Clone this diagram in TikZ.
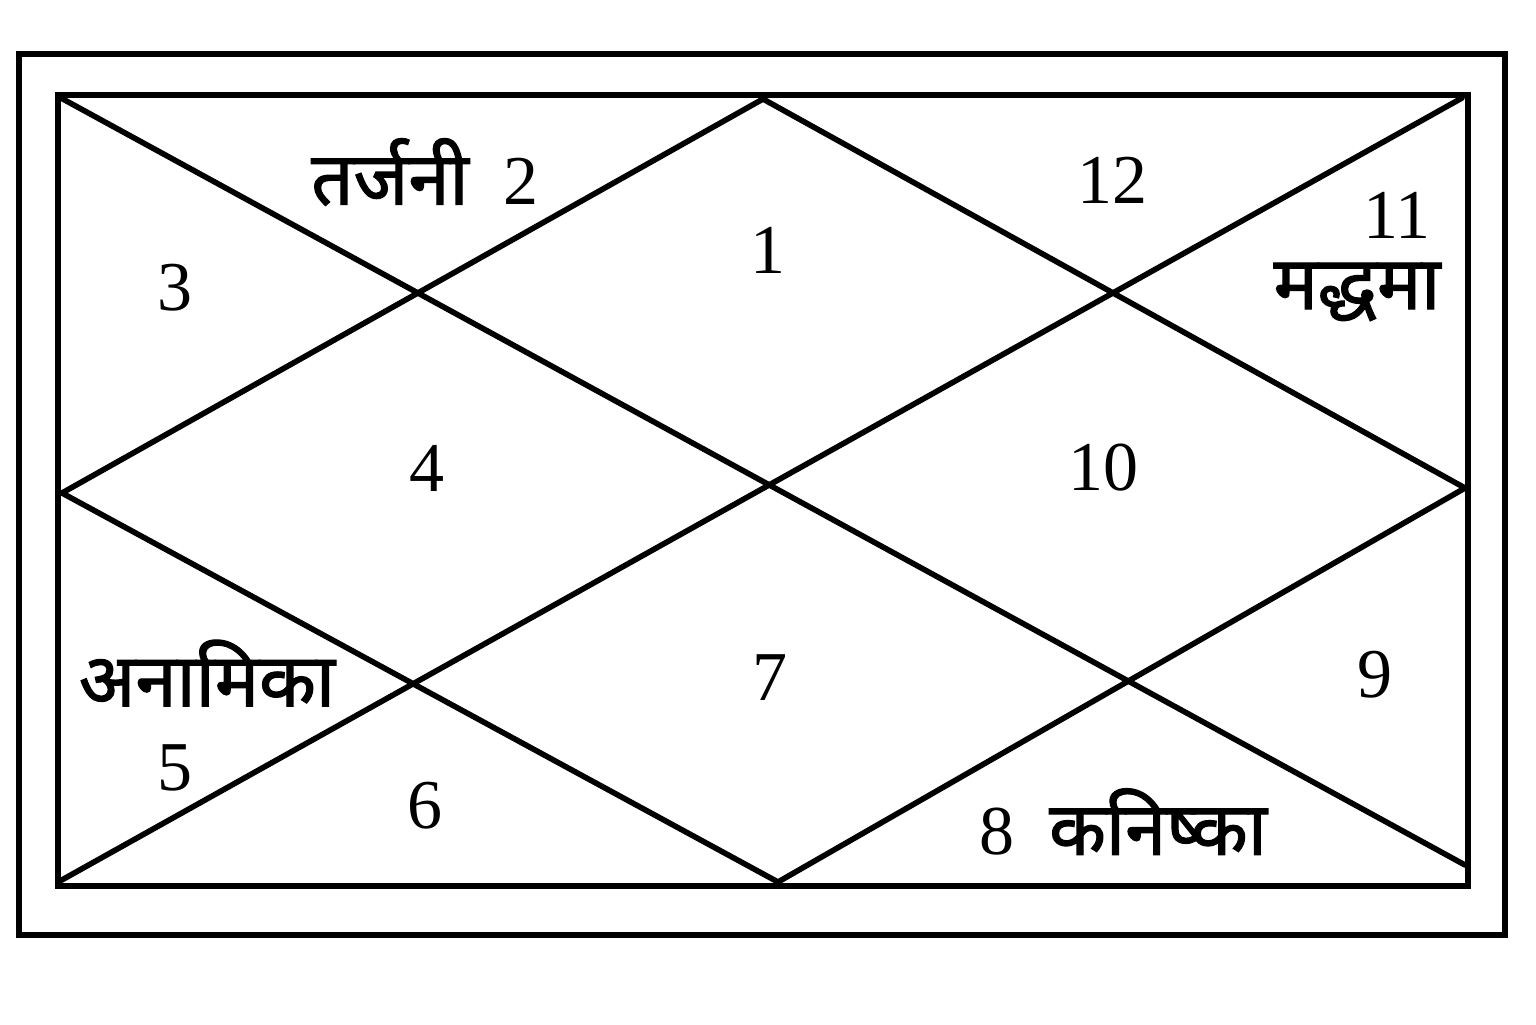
\documentclass[tikz,border=0pt]{standalone}
\usepackage{fontspec}
\setmainfont{Liberation Serif}
\newfontfamily\deva[Script=Devanagari, FakeBold=1.6]{Noto Sans}
\tikzset{
    num/.style = {font=\fontsize{35}{40}\selectfont, inner sep=0pt},
    word/.style = {font=\fontsize{37}{40}\selectfont\deva, inner sep=0pt}
}
\begin{document}
\begin{tikzpicture}[x=0.5pt, y=-0.5pt]
        \useasboundingbox (0,0) rectangle (1536,1024);
        \begin{scope}[line width = 3pt]
            \draw (19,53.5) rectangle (1505,934.5);
            \draw (58,95) rectangle (1468,885.5);
        \end{scope}
        \begin{scope}[line width = 2.8pt, line cap = round]
            \draw (61,98) -- (1465,865);
            \draw (1462,98) -- (60,881);
            \draw (763,99) -- (62,493) -- (778,882) -- (1465,488) -- cycle;
        \end{scope}
        \node[num] (h2) at (425,172) {{\deva\fontsize{37}{40}\selectfont तर्जनी}\ \ 2};
        \node[num] (h3) at (175,288) {3};
        \node[num] (h1) at (768,250) {1};
        \node[num] (h12) at (1112,180) {12};
        \node[num] (h11) at (1397,215) {11};
        \node[word] (mid) at (1357,292) {मद्धमा};
        \node[num] (h4) at (427,468) {4};
        \node[num] (h10) at (1103,468) {10};
        \node[word] (ana) at (207,673) {अनामिका};
        \node[num] (h7) at (770,678) {7};
        \node[num] (h9) at (1375,675) {9};
        \node[num] (h5) at (175,768) {5};
        \node[num] (h6) at (425,806) {6};
        \node[num] (h8) at (1123,822) {8\ \ {\deva\fontsize{37}{40}\selectfont कनिष्का}};
    \end{tikzpicture}
\end{document}
